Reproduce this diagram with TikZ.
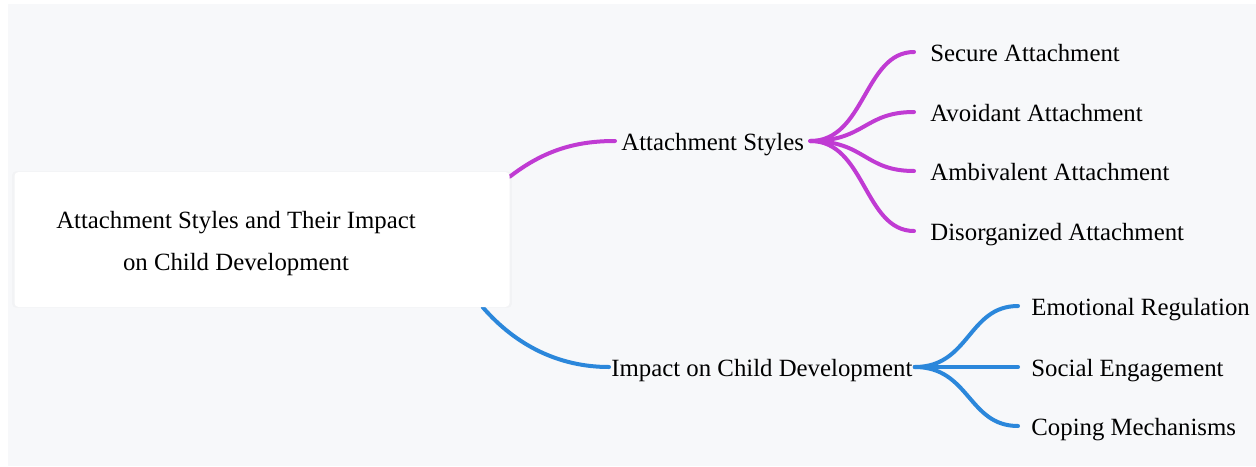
\documentclass[tikz,border=0pt]{standalone}
\usepackage{fontspec}
\setmainfont{Liberation Serif}
\usetikzlibrary{backgrounds,shadows}
\definecolor{mmpurple}{HTML}{C03BD3}
\definecolor{mmblue}{HTML}{2B87DB}
\definecolor{mmback}{HTML}{F7F8FA}
\newcommand{\mmtopic}[4] {\node at (#1) (#2) [anchor=west, inner ysep=0pt, inner xsep=#4, text height=1.04em, text depth=0.14em] {#3};}
\newcommand{\mmfan}[3] {\draw [mmline, #3] (#1.east) .. controls +(55,0) and +(-50,0) .. (#2.west);}

\begin{document}
\begin{tikzpicture}[x=0.5pt, y=-0.5pt, font=\fontsize{12.4}{21}\selectfont,
  mmline/.style={line width=2pt, line cap=round}]
\useasboundingbox (0,0) rectangle (1256,466);

% central topic
\node at (262,239.5) (root) [rectangle, rounded corners=2pt, fill=white, minimum width=247.5pt, minimum height=67.5pt,
  drop shadow={shadow xshift=0pt, shadow yshift=0pt, shadow scale=1.01, opacity=0.04}] {};
\node at (236,244) (title) [align=center] {Attachment Styles and Their Impact\\on Child Development};

% main branches
\mmtopic {615,141} {styles} {Attachment Styles} {3pt};
\mmtopic {609,367} {impact} {Impact on Child Development} {1pt};

% leaves
\mmtopic {914,52} {secure} {Secure Attachment} {8pt};
\mmtopic {914,112} {avoidant} {Avoidant Attachment} {8pt};
\mmtopic {914,171} {ambivalent} {Ambivalent Attachment} {8pt};
\mmtopic {914,231} {disorganized} {Disorganized Attachment} {8pt};
\mmtopic {1018,306} {emotion} {Emotional Regulation} {6.5pt};
\mmtopic {1018,367} {social} {Social Engagement} {6.5pt};
\mmtopic {1018,426} {coping} {Coping Mechanisms} {6.5pt};

\mmfan{styles}{secure}{mmpurple};
\mmfan{styles}{avoidant}{mmpurple};
\mmfan{styles}{ambivalent}{mmpurple};
\mmfan{styles}{disorganized}{mmpurple};
\mmfan{impact}{emotion}{mmblue};
\mmfan{impact}{social}{mmblue};
\mmfan{impact}{coping}{mmblue};

\begin{scope}[on background layer]
\fill [white] (0,0) rectangle (1256,466);
\fill [mmback] (8,4) rectangle (1256,466);
\draw [mmline, mmpurple] ([yshift=-2.5pt]root.north east) .. controls +(35,-27) and +(-38,0) .. (styles.west);
\draw [mmline, mmblue] ([xshift=-13.5pt]root.south east) .. controls +(33,38) and +(-50,0) .. (impact.west);
\end{scope}
\end{tikzpicture}
\end{document}
